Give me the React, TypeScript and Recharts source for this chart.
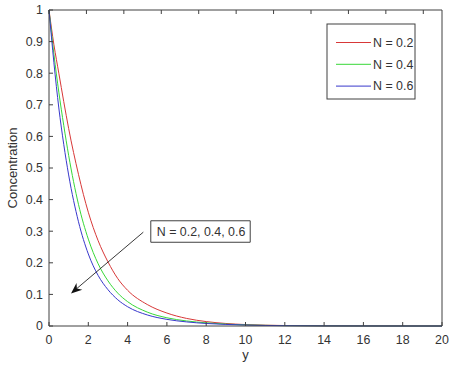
import { Line, LineChart, ReferenceArea, ReferenceLine, XAxis, YAxis } from "recharts"

const xs = [0, 0.25, 0.5, 0.75, 1, 1.5, 2, 2.5, 3, 3.5, 4, 5, 6, 7, 8, 9, 10, 12, 14, 16, 18, 20]
const n02 = [1, 0.89, 0.8, 0.71, 0.625, 0.48, 0.36, 0.27, 0.203, 0.15, 0.113, 0.068, 0.041, 0.024, 0.014, 0.008, 0.0045, 0.0015, 0.0005, 0.0002, 0.0001, 0]
const n04 = [1, 0.86, 0.74, 0.635, 0.54, 0.385, 0.275, 0.197, 0.143, 0.104, 0.077, 0.044, 0.026, 0.016, 0.01, 0.006, 0.0035, 0.0012, 0.0004, 0.0001, 0, 0]
const n06 = [1, 0.833, 0.69, 0.575, 0.478, 0.33, 0.228, 0.16, 0.115, 0.083, 0.061, 0.035, 0.021, 0.013, 0.008, 0.005, 0.003, 0.001, 0.0003, 0.0001, 0, 0]

const xTicks = [0, 2, 4, 6, 8, 10, 12, 14, 16, 18, 20]
const yTicks = [0, 0.1, 0.2, 0.3, 0.4, 0.5, 0.6, 0.7, 0.8, 0.9, 1]

const seriesNames = ["N = 0.2", "N = 0.4", "N = 0.6"]
const annotationText = "N = 0.2, 0.4, 0.6"

const data = xs.map((x, i) => ({ x, a: n02[i], b: n04[i], c: n06[i] }))

const AXIS = "#404040"
const TEXT = "#333"
const FONT = "'Liberation Sans', Arial, sans-serif"
const COLORS = ["#d83838", "#38d838", "#3838cc"]
const TICK = 4

function BottomTick({ x, y, payload }: any) {
  return (
    <g>
      <line x1={x} y1={y} x2={x} y2={y - TICK} stroke={AXIS} />
      <text x={x} y={y + 18} textAnchor="middle" fontSize={12.4} fill={TEXT} fontFamily={FONT}>
        {payload.value}
      </text>
    </g>
  )
}

function TopTick({ x, y }: any) {
  return <line x1={x} y1={y} x2={x} y2={y + TICK} stroke={AXIS} />
}

function LeftTick({ x, y, payload }: any) {
  return (
    <g>
      <line x1={x} y1={y} x2={x + TICK} y2={y} stroke={AXIS} />
      <text x={x - 6} y={y + 4.3} textAnchor="end" fontSize={12.4} fill={TEXT} fontFamily={FONT}>
        {payload.value}
      </text>
    </g>
  )
}

function RightTick({ x, y }: any) {
  return <line x1={x} y1={y} x2={x - TICK} y2={y} stroke={AXIS} />
}

function Arrow({ x1, y1, x2, y2 }: any) {
  const dx = x2 - x1
  const dy = y2 - y1
  const len = Math.hypot(dx, dy)
  const ux = dx / len
  const uy = dy / len
  const hl = 11
  const hw = 4.5
  const bx = x2 - ux * hl
  const by = y2 - uy * hl
  const nx = x2 - ux * hl * 0.7
  const ny = y2 - uy * hl * 0.7
  return (
    <g>
      <line x1={x1} y1={y1} x2={nx} y2={ny} stroke="#222" strokeWidth={0.9} />
      <polygon
        points={`${x2},${y2} ${bx - uy * hw},${by + ux * hw} ${nx},${ny} ${bx + uy * hw},${by - ux * hw}`}
        fill="#111"
      />
    </g>
  )
}

function Legend() {
  return (
    <svg width={90} height={77} style={{ position: "absolute", left: 326, top: 23 }}>
      <rect x={1} y={1} width={88} height={75} fill="#fff" stroke={AXIS} />
      {seriesNames.map((name, i) => {
        const cy = 19.5 + i * 21.8
        return (
          <g key={name}>
            <line x1={10} y1={cy} x2={45} y2={cy} stroke={COLORS[i]} />
            <text x={47} y={cy + 4.3} fontSize={12.4} fill={TEXT} fontFamily={FONT}>
              {name}
            </text>
          </g>
        )
      })}
    </svg>
  )
}

export default function App() {
  return (
    <div style={{ position: "relative", width: 455, height: 370, background: "#fff" }}>
      <style>{"body{margin:0}"}</style>
      <LineChart width={455} height={370} data={data} margin={{ top: 9, right: 12, left: 0, bottom: 0 }}>
        <XAxis
          dataKey="x"
          type="number"
          domain={[0, 20]}
          ticks={xTicks}
          height={44}
          tickSize={0}
          tickMargin={0}
          tickLine={false}
          tick={BottomTick}
          stroke={AXIS}
          label={{ value: "y", position: "insideBottom", offset: 11, fontSize: 13, fill: TEXT, fontFamily: FONT }}
        />
        <XAxis
          xAxisId="top"
          orientation="top"
          type="number"
          domain={[0, 20]}
          ticks={xTicks}
          height={1}
          tickSize={0}
          tickMargin={0}
          tickLine={false}
          tick={TopTick}
          stroke={AXIS}
        />
        <YAxis
          type="number"
          domain={[0, 1]}
          ticks={yTicks}
          width={49}
          tickSize={0}
          tickMargin={0}
          tickLine={false}
          tick={LeftTick}
          stroke={AXIS}
          label={{
            content: ({ viewBox }: any) => {
              const cx = viewBox.x + 17
              const cy = viewBox.y + viewBox.height / 2
              return (
                <text
                  x={cx}
                  y={cy}
                  transform={`rotate(-90 ${cx} ${cy})`}
                  textAnchor="middle"
                  fontSize={13}
                  fill={TEXT}
                  fontFamily={FONT}
                >
                  Concentration
                </text>
              )
            },
          }}
        />
        <YAxis
          yAxisId="right"
          orientation="right"
          type="number"
          domain={[0, 1]}
          ticks={yTicks}
          width={1}
          tickSize={0}
          tickMargin={0}
          tickLine={false}
          tick={RightTick}
          stroke={AXIS}
        />
        <Line dataKey="a" type="monotone" stroke={COLORS[0]} strokeWidth={1} dot={false} isAnimationActive={false} />
        <Line dataKey="b" type="monotone" stroke={COLORS[1]} strokeWidth={1} dot={false} isAnimationActive={false} />
        <Line dataKey="c" type="monotone" stroke={COLORS[2]} strokeWidth={1} dot={false} isAnimationActive={false} />
        <ReferenceLine
          segment={[
            { x: 4.8, y: 0.297 },
            { x: 1.12, y: 0.103 },
          ]}
          shape={Arrow}
        />
        <ReferenceArea
          x1={5.18}
          x2={10.24}
          y1={0.265}
          y2={0.333}
          fill="#fff"
          fillOpacity={1}
          stroke={AXIS}
          label={{ value: annotationText, position: "insideLeft", offset: 6, fontSize: 12.4, fill: TEXT, fontFamily: FONT }}
        />
      </LineChart>
      <Legend />
    </div>
  )
}
